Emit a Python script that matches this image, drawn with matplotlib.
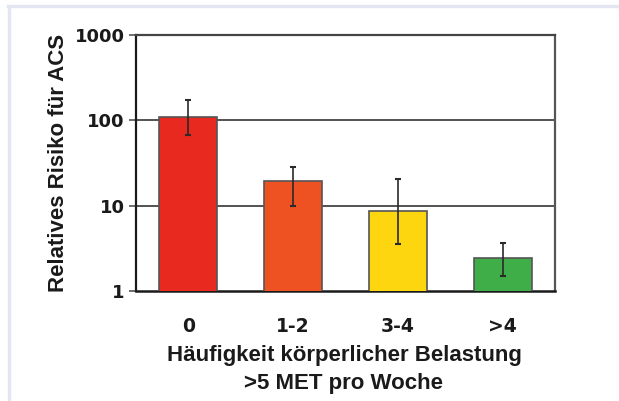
import matplotlib
matplotlib.use("Agg")
import matplotlib.pyplot as plt
import numpy as np
from matplotlib.lines import Line2D

categories = ["0", "1-2", "3-4", ">4"]
values = [108, 19.5, 8.7, 2.42]
err_low = [67, 9.9, 3.6, 1.49]
err_high = [173, 28.6, 20.6, 3.7]
colors = ["#E8291F", "#EE5223", "#FDD60F", "#3FAE48"]
yticks = [1, 10, 100, 1000]
ytick_labels = ["1", "10", "100", "1000"]

plt.rcParams['font.family'] = ['Liberation Sans', 'DejaVu Sans']

fig = plt.figure(figsize=(6.19, 4.01), dpi=100)
fig.patch.set_facecolor("white")
# light frame lines
fig.add_artist(Line2D([8/619, 1.0], [1-5.5/401, 1-5.5/401], color="#E3E5F3", lw=2.4, transform=fig.transFigure))
fig.add_artist(Line2D([8.5/619, 8.5/619], [0, 1-5.5/401], color="#E3E5F3", lw=2.4, transform=fig.transFigure))

ax = fig.add_axes([136/619, 1-291/401, (555-136)/619, (291-35)/401])
x = np.arange(len(categories))
v = np.array(values)
yerr = np.array([v - np.array(err_low), np.array(err_high) - v])
ax.bar(x, v, width=0.555, color=colors, edgecolor="#555555", linewidth=1.2, zorder=3)
ax.errorbar(x, v, yerr=yerr, fmt="none", ecolor="#2a2a2a", elinewidth=1.2, capsize=2, capthick=1.5, zorder=4)
ax.set_yscale("log")
ax.set_ylim(1, 1000)
ax.set_xlim(-0.5, 3.5)
ax.set_yticks(yticks)
ax.set_yticklabels(ytick_labels)
ax.yaxis.set_minor_locator(matplotlib.ticker.NullLocator())
for yv in [10, 100]:
    ax.axhline(yv, color="#444444", lw=1.3, zorder=1)
ax.set_xticks(x)
ax.set_xticklabels(categories)
ax.tick_params(axis="x", length=0, pad=19, labelsize=13.5)
ax.tick_params(axis="y", length=5, width=1.2, color="#555555", pad=3, labelsize=13)
for lab in ax.get_xticklabels() + ax.get_yticklabels():
    lab.set_fontweight("bold")
    lab.set_family("DejaVu Sans")
    lab.set_color("#1a1a1a")
ax.spines["left"].set_color("#1a1a1a")
ax.spines["left"].set_linewidth(1.6)
ax.spines["bottom"].set_color("#1a1a1a")
ax.spines["bottom"].set_linewidth(1.8)
ax.spines["top"].set_color("#444444")
ax.spines["top"].set_linewidth(1.6)
ax.spines["right"].set_color("#555555")
ax.spines["right"].set_linewidth(1.6)
ax.set_ylabel("Relatives Risiko für ACS", fontsize=16, fontweight="bold", color="#1a1a1a")
ax.yaxis.set_label_coords(-0.160, 0.5)
fig.text(344/619, 1-356/401, "Häufigkeit körperlicher Belastung", ha="center", va="center",
         fontsize=16, fontweight="bold", color="#1a1a1a")
fig.text(344/619, 1-383/401, ">5 MET pro Woche", ha="center", va="center",
         fontsize=16, fontweight="bold", color="#1a1a1a")
fig.savefig("out.png", dpi=100)
